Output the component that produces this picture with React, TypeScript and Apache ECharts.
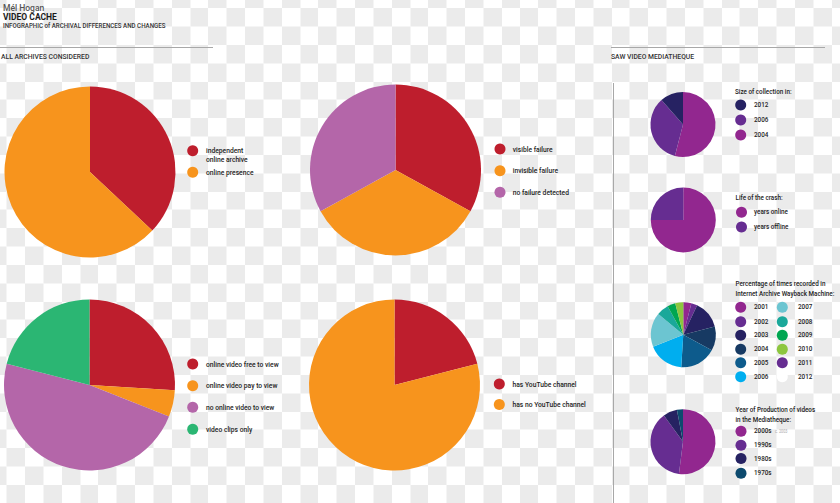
import React, { useEffect, useRef } from "react";
import * as echarts from "echarts";

const FONT = "Roboto, 'Open Sans', sans-serif";

// ---- data ----
const pie1Labels = ["independent\nonline archive", "online presence"];
const pie1Values = [37, 63];
const pie2Labels = ["visible failure", "invisible failure", "no failure detected"];
const pie2Values = [33, 34, 33];
const pie3Labels = ["online video free to view", "online video pay to view", "no online video to view", "video clips only"];
const pie3Values = [26, 5, 48, 21];
const pie4Labels = ["has YouTube channel", "has no YouTube channel"];
const pie4Values = [21, 79];

const pieALabels = ["2004", "2006", "2012"];
const pieAValues = [54, 34.5, 11.5];
const pieBLabels = ["years online", "years offline"];
const pieBValues = [75, 25];
const pieCLabels = ["2001", "2002", "2003", "2004", "2005", "2006", "2007", "2008", "2009", "2010", "2011", "2012"];
const pieCValues = [4, 3, 14, 12, 18, 18, 17, 6, 4, 4, 0, 0];
const pieDLabels = ["2000s", "1990s", "1980s", "1970s"];
const pieDValues = [52, 38, 7, 3];

// ---- styles ----
const RED = "#be1e2d";
const ORANGE = "#f7941d";
const MAUVE = "#b466a9";
const GREEN = "#2bb673";
const MAGENTA = "#92278f";
const PURPLE = "#662d91";
const NAVY = "#262262";
const pie1Colors = [RED, ORANGE];
const pie2Colors = [RED, ORANGE, MAUVE];
const pie3Colors = [RED, ORANGE, MAUVE, GREEN];
const pie4Colors = [RED, ORANGE];
const pieAColors = [MAGENTA, PURPLE, NAVY];
const pieBColors = [MAGENTA, PURPLE];
const pieCColors = ["#92278f", "#662d91", "#262262", "#173a63", "#0d5b8c", "#00aeef", "#6cc5d1", "#1aa89a", "#00a651", "#8dc63f", "#662d91", "#ffffff"];
const pieDColors = [MAGENTA, PURPLE, NAVY, "#0d4a6e"];

const CHECKER =
  "url(\"data:image/svg+xml;utf8,<svg xmlns='http://www.w3.org/2000/svg' width='36.66' height='36.66'><rect width='36.66' height='36.66' fill='%23ffffff'/><rect x='18.33' y='0' width='18.33' height='18.33' fill='%23ebebeb'/><rect x='0' y='18.33' width='18.33' height='18.33' fill='%23ebebeb'/></svg>\")";

function pieSeries(cx: number, cy: number, r: number, labels: string[], values: number[], colors: string[]) {
  return {
    type: "pie",
    center: [cx, cy],
    radius: r,
    startAngle: 90,
    clockwise: true,
    silent: true,
    label: { show: false },
    labelLine: { show: false },
    emphasis: { disabled: true },
    itemStyle: { borderWidth: 0 },
    data: labels.map((n, i) => ({ name: n, value: values[i], itemStyle: { color: colors[i] } })),
  };
}

function legendItems(x: number, ys: number[], labels: string[], colors: string[], textX: number, fontSize = 8) {
  const out: any[] = [];
  labels.forEach((l, i) => {
    out.push({ type: "circle", shape: { cx: x, cy: ys[i], r: 5.5 }, style: { fill: colors[i] }, silent: true });
    out.push({
      type: "text",
      x: textX,
      y: ys[i] - 4.5,
      scaleX: 0.84,
      silent: true,
      style: { text: l, fill: "#1e1e1e", fontSize, fontFamily: FONT, fontWeight: 500, lineHeight: 9, align: "left", verticalAlign: "top" },
    });
  });
  return out;
}

function txt(x: number, y: number, text: string, fontSize: number, fill = "#222", fontWeight: any = 500, scaleX = 0.84) {
  return { type: "text", x, y, scaleX, silent: true, style: { text, fill, fontSize, fontFamily: FONT, fontWeight, align: "left", verticalAlign: "middle" } };
}

export default function App() {
  const ref = useRef<HTMLDivElement>(null);
  useEffect(() => {
    document.body.style.margin = "0";
    if (!ref.current) return;
    const chart = echarts.init(ref.current, null, { renderer: "svg" });
    const rowsC = [307.3, 321.7, 335.3, 349.3, 362.7, 376.7];
    const graphic: any[] = [
      txt(3, 7.5, "Mél Hogan", 8.5, "#555", 500, 1),
      txt(3, 16.5, "VIDEO CACHE", 8.5, "#1a1a1a", "bold", 1),
      txt(3, 25.5, "INFOGRAPHIC of ARCHIVAL DIFFERENCES AND CHANGES", 6.5, "#333", 500, 0.95),
      { type: "line", silent: true, shape: { x1: 0, y1: 47.5, x2: 213, y2: 47.5 }, style: { stroke: "#a8a8a8", lineWidth: 1 } },
      { type: "line", silent: true, shape: { x1: 611, y1: 47.5, x2: 825, y2: 47.5 }, style: { stroke: "#a8a8a8", lineWidth: 1 } },
      { type: "line", silent: true, shape: { x1: 613.5, y1: 83, x2: 613.5, y2: 503 }, style: { stroke: "#a8a8a8", lineWidth: 1 } },
      txt(1, 57, "ALL ARCHIVES CONSIDERED", 6.8, "#333", 500, 1),
      txt(611, 57, "SAW VIDEO MEDIATHEQUE", 6.8, "#333", 500, 1),
      ...legendItems(192.7, [150.7, 172.3], pie1Labels, pie1Colors, 206),
      ...legendItems(500, [149, 170.7, 192.3], pie2Labels, pie2Colors, 512.7),
      ...legendItems(192.7, [364, 385.7, 407.3, 429.3], pie3Labels, pie3Colors, 206),
      ...legendItems(499.3, [384, 404.5], pie4Labels, pie4Colors, 512.5),
      txt(735, 92.3, "Size of collection in:", 7.5),
      ...legendItems(740.7, [105, 120, 135], [...pieALabels].reverse(), [...pieAColors].reverse(), 754, 7.5),
      txt(735.5, 198.3, "Life of the crash:", 7.5),
      ...legendItems(741.5, [212.3, 227], pieBLabels, pieBColors, 754, 7.5),
      txt(735.5, 284.3, "Percentage of times recorded in", 7.5),
      txt(735.5, 293.5, "Internet Archive Wayback Machine:", 7.5),
      ...legendItems(740.7, rowsC, pieCLabels.slice(0, 6), pieCColors.slice(0, 6), 754, 7.5),
      ...legendItems(782.3, rowsC, pieCLabels.slice(6), pieCColors.slice(6), 798, 7.5),
      txt(735.5, 410, "Year of Production of videos", 7.5),
      txt(735.5, 419.5, "in the Mediatheque:", 7.5),
      ...legendItems(741, [431.3, 445.3, 458.5, 473.3], pieDLabels, pieDColors, 754, 7.5),
      txt(775, 431.8, "c. 2003", 4.5, "#aaa", "normal"),
    ];
    chart.setOption({
      animation: false,
      backgroundColor: "transparent",
      graphic,
      series: [
        pieSeries(90, 172, 85.5, pie1Labels, pie1Values, pie1Colors),
        pieSeries(395.5, 170, 85.5, pie2Labels, pie2Values, pie2Colors),
        pieSeries(89.5, 385, 85.5, pie3Labels, pie3Values, pie3Colors),
        pieSeries(394.5, 385, 85.5, pie4Labels, pie4Values, pie4Colors),
        pieSeries(683, 124.5, 32.5, pieALabels, pieAValues, pieAColors),
        pieSeries(683.3, 220, 32.5, pieBLabels, pieBValues, pieBColors),
        pieSeries(683.3, 334.7, 32.5, pieCLabels, pieCValues, pieCColors),
        pieSeries(683, 441.7, 32.5, pieDLabels, pieDValues, pieDColors),
      ],
    });
    return () => chart.dispose();
  }, []);
  return (
    <div
      style={{
        width: 840,
        height: 503,
        backgroundColor: "#ffffff",
        backgroundImage: CHECKER,
        backgroundRepeat: "repeat",
        backgroundPosition: "-11.53px 8.3px",
      }}
    >
      <div ref={ref} style={{ width: 840, height: 503 }} />
    </div>
  );
}
